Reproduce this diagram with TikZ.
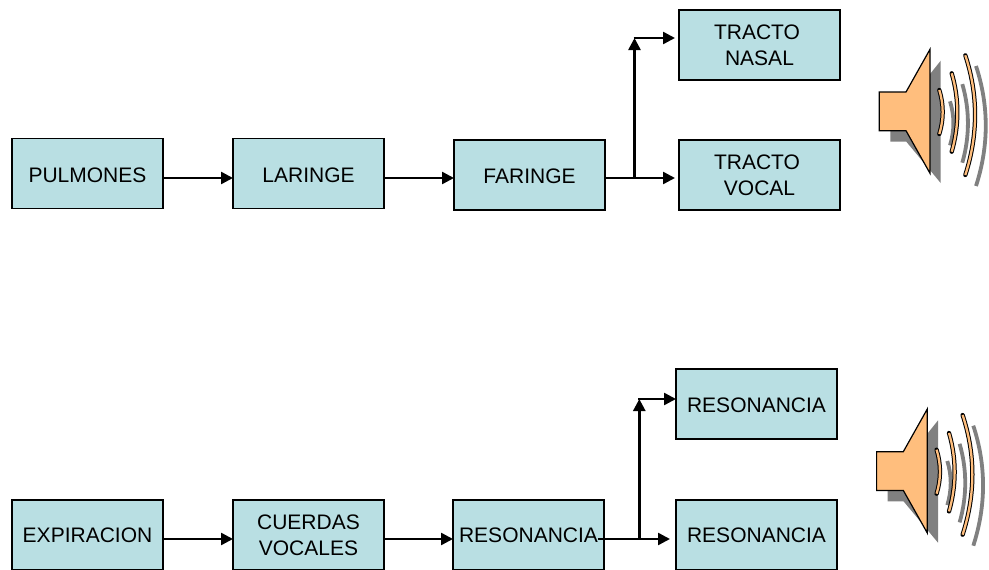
\documentclass[tikz,border=0pt]{standalone}
\usepackage{fontspec}
\setmainfont{Liberation Sans}
\usetikzlibrary{arrows.meta}

\definecolor{cajaazul}{HTML}{B9DFE3}
\definecolor{naranja}{HTML}{FFBE7D}
\definecolor{sombra}{HTML}{808080}

\tikzset{
  caja/.style={draw=black, fill=cajaazul, line width=1.2pt, inner sep=0pt, outer sep=0pt,
    minimum width=151pt, minimum height=70pt, align=center, text height=17pt, text depth=0pt,
    font=\fontsize{21}{26}\selectfont},
  cajaancha/.style={caja, minimum width=161pt},
  doble/.style={text height=41pt},
  baja/.style={text height=15pt},
  flecha/.style={draw=black, line width=2.5pt, -{Triangle[length=12pt,width=12pt]}},
  onda/.style={draw=naranja, line width=2.3pt, preaction={draw=black, line width=4.3pt, line cap=round}},
  ondasombra/.style={draw=sombra, line width=3.8pt},
  altavoz/.pic={
    % sombra
    \fill [sombra] (11,-8) -- (27,-8) -- (61.4,-51) -- (61.4,71.3) -- (27,30) -- (11,30) -- cycle;
    \draw [ondasombra] (70.7,-10.4) .. controls (75.2,4) and (75.2,19) .. (70.7,33.7);
    \draw [ondasombra] (83,-27.6) .. controls (90.5,-2) and (90.5,25) .. (83,51);
    \draw [ondasombra] (96.7,-45.7) .. controls (109.7,-6) and (109.7,34) .. (96.7,74.3);
    % cuerpo
    \draw [black, fill=naranja, line width=1.2pt, line join=miter] (0,-19.7) -- (26.7,-19.7) -- (50.7,-62.4) -- (50.7,61.6) -- (26.7,19) -- (0,19) -- cycle;
    \draw [onda] (60,-21.7) .. controls (64.5,-7) and (64.5,7.7) .. (60,22.3);
    \draw [onda] (72.4,-38.4) .. controls (79.9,-13) and (79.9,14) .. (72.4,40);
    \draw [onda] (86,-56.4) .. controls (99,-17) and (99,23) .. (86,63.3);
  }
}

\begin{document}
\begin{tikzpicture}[x=1pt,y=-1pt]
\useasboundingbox (0,0) rectangle (989,570);

% cadena de arriba
\node [caja] (pulmones) at (87.5,173.5) {PULMONES};
\node [caja] (laringe) at (308.5,173.5) {LARINGE};
\node [caja] (faringe) at (529.5,175) {FARINGE};
\node [cajaancha, doble] (nasal) at (759.5,45) {TRACTO\hspace*{5pt}\\NASAL};
\node [cajaancha, doble] (vocal) at (759.5,175) {TRACTO\hspace*{5pt}\\VOCAL};

% cadena de abajo
\node [caja, baja] (expiracion) at (87.5,535) {EXPIRACION};
\node [caja, doble] (cuerdas) at (308.5,535) {CUERDAS\\VOCALES};
\node [caja, baja] (resonancia) at (528.5,535) {RESONANCIA};
\node [cajaancha] (resa) at (756.5,404) {RESONANCIA};
\node [cajaancha, baja] (resb) at (756.5,535) {RESONANCIA};

\coordinate (nivela) at (0,178);
\coordinate (nivelb) at (0,539);
\coordinate (forka) at (634.5,178);
\coordinate (topa) at (634.5,38);
\coordinate (forkb) at (639.3,539);
\coordinate (topb) at (639.3,399);

\draw [flecha] (pulmones.east |- nivela) -- (laringe.west |- nivela);
\draw [flecha] (laringe.east |- nivela) -- (faringe.west |- nivela);
\draw [flecha] (faringe.east |- nivela) -- ([xshift=-4pt]vocal.west |- nivela);
\draw [flecha] (forka) -- (topa);
\draw [flecha] ([xshift=-1pt]topa) -- ([xshift=-4pt]nasal.west |- topa);

\draw [flecha] (expiracion.east |- nivelb) -- (cuerdas.west |- nivelb);
\draw [flecha] (cuerdas.east |- nivelb) -- (resonancia.west |- nivelb);
\draw [flecha] ([xshift=-6pt]resonancia.east |- nivelb) -- ([xshift=-6pt]resb.west |- nivelb);
\draw [flecha] (forkb) -- (topb);
\draw [flecha] ([xshift=-1pt]topb) -- (resa.west |- topb);

\pic at (879.3,111.7) {altavoz};
\pic at (876.6,471.4) {altavoz};
\end{tikzpicture}
\end{document}
